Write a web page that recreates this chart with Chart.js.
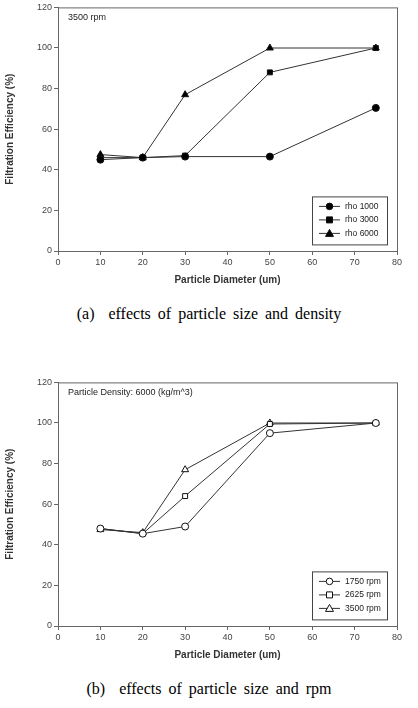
<!DOCTYPE html><html><head><script src="https://cdn.jsdelivr.net/npm/chart.js@4"></script>
<style>body{margin:0;background:#fff;width:418px;height:708px;position:relative;overflow:hidden}
.c{position:absolute;left:0;width:418px;height:290px}
.cap{position:absolute;left:0;width:418px;text-align:center;font-family:"Liberation Serif",serif;font-size:16px;color:#000;word-spacing:3px}
</style></head><body>
<div class="c" style="top:0"><canvas id="a"></canvas></div>
<div class="cap" style="top:305px">(a)&nbsp; effects of particle size and density</div>
<div class="c" style="top:375px"><canvas id="b"></canvas></div>
<div class="cap" style="top:680px">(b)&nbsp; effects of particle size and rpm</div>
<script>
const diameters=[10,20,30,50,75];
const rho1000=[45,46,46.5,46.5,70.5];
const rho3000=[46,46,47,88,100];
const rho6000=[47.5,46,77,100,100];
const rpm1750=[48,45.5,49,95,100];
const rpm2625=[48,45.5,64,99.5,100];
const rpm3500=[47.5,46,77,100,100];
const xTicks=[0,10,20,30,40,50,60,70,80];
const yTicks=[0,20,40,60,80,100,120];
const F='Liberation Sans, Arial, sans-serif';
function ds(label,vals,style,fill){return{label,data:diameters.map((x,i)=>({x,y:vals[i]})),borderColor:'#333',borderWidth:1,pointStyle:style,pointRadius:style==='triangle'?4:3.5,pointBackgroundColor:fill,pointBorderColor:'#111',pointBorderWidth:1}}
function make(id,sets,note){
const deco={id:'deco',afterDraw(c){const a=c.chartArea,g=c.ctx;g.save();g.strokeStyle='#666';g.lineWidth=1;g.strokeRect(a.left+.5,a.top+.5,a.right-a.left,a.bottom-a.top);
g.font='9px '+F;g.fillStyle='#222';g.textBaseline='middle';g.fillText(note,a.left+10,a.top+10);
const bx=a.left+254,by=a.top+189,bw=75,bh=48;g.strokeStyle='#444';g.strokeRect(bx+.5,by+.5,bw,bh);
sets.forEach((d,i)=>{const yy=by+10+i*13.5;g.strokeStyle='#333';g.beginPath();g.moveTo(bx+7,yy);g.lineTo(bx+28,yy);g.stroke();
g.fillStyle=d.pointBackgroundColor;g.strokeStyle='#111';g.beginPath();
if(d.pointStyle==='circle')g.arc(bx+17.5,yy,3.3,0,7);else if(d.pointStyle==='rect')g.rect(bx+14.5,yy-3,6,6);else{g.moveTo(bx+17.5,yy-4);g.lineTo(bx+21.5,yy+3);g.lineTo(bx+13.5,yy+3);g.closePath();}
g.fill();g.stroke();g.fillStyle='#222';g.font='8.5px '+F;g.fillText(d.label,bx+33,yy);});g.restore();}};
new Chart(document.getElementById(id),{type:'line',data:{datasets:sets},plugins:[deco],options:{responsive:true,maintainAspectRatio:false,animation:false,layout:{padding:{top:7,right:21,left:0,bottom:0}},plugins:{legend:{display:false},tooltip:{enabled:false}},
scales:{x:{type:'linear',min:0,max:80,afterBuildTicks:s=>{s.ticks=xTicks.map(v=>({value:v}))},afterFit:s=>{s.height=39},grid:{drawOnChartArea:false,tickLength:4,color:'#666'},border:{color:'#666'},ticks:{font:{size:9,family:F},color:'#444',padding:2},title:{display:true,text:'Particle Diameter (um)',font:{size:10,family:F,weight:'bold'},color:'#333',padding:{top:2}}},
y:{min:0,max:120,afterBuildTicks:s=>{s.ticks=yTicks.map(v=>({value:v}))},afterFit:s=>{s.width=58},grid:{drawOnChartArea:false,tickLength:4,color:'#666'},border:{color:'#666'},ticks:{font:{size:9,family:F},color:'#444',padding:2},title:{display:true,text:'Filtration Efficiency (%)',font:{size:10,family:F,weight:'bold'},color:'#333',padding:{bottom:2}}}}}});}
make('a',[ds('rho 1000',rho1000,'circle','#000'),ds('rho 3000',rho3000,'rect','#000'),ds('rho 6000',rho6000,'triangle','#000')],'3500 rpm');
make('b',[ds('1750 rpm',rpm1750,'circle','#fff'),ds('2625 rpm',rpm2625,'rect','#fff'),ds('3500 rpm',rpm3500,'triangle','#fff')],'Particle Density: 6000 (kg/m^3)');
</script></body></html>
